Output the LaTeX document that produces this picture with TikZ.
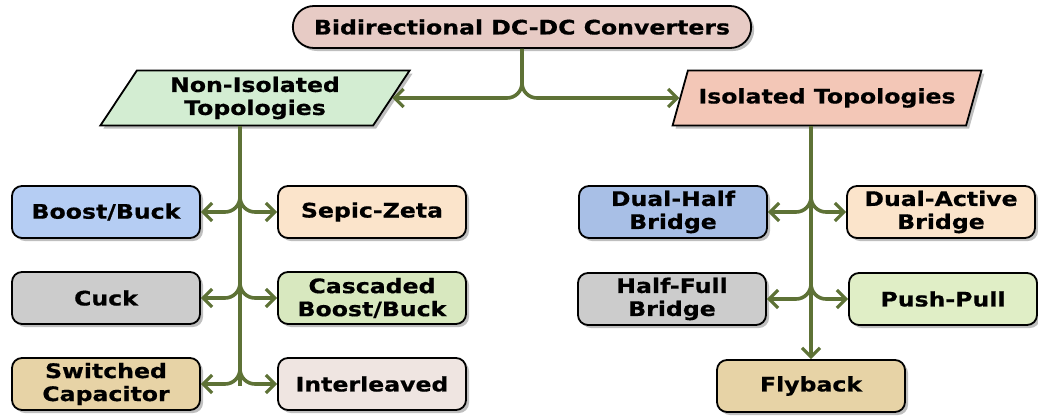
\documentclass[tikz,border=0pt]{standalone}
\usepackage{fontspec}
\setmainfont[FakeStretch=1.18,BoldFeatures={FakeBold=0.6}]{DejaVu Sans}
\usetikzlibrary{shapes.geometric,shapes.misc,shadows,arrows.meta}

\definecolor{topfill}{HTML}{E7CBC5}
\definecolor{nonisofill}{HTML}{D3EDD2}
\definecolor{isofill}{HTML}{F3C7B7}
\definecolor{bluefill}{HTML}{B5CDF3}
\definecolor{blueBfill}{HTML}{A8BFE6}
\definecolor{peachfill}{HTML}{FBE4CB}
\definecolor{grayfill}{HTML}{CCCCCC}
\definecolor{greenfill}{HTML}{D8E8BF}
\definecolor{greenBfill}{HTML}{E0EEC6}
\definecolor{tanfill}{HTML}{E7D3A6}
\definecolor{palefill}{HTML}{EFE5E1}
\definecolor{linkcol}{HTML}{5E7236}

\tikzset{
  base/.style={draw=black, line width=1.8pt, font=\bfseries\fontsize{20}{23}\selectfont,
    align=center, drop shadow={shadow xshift=3pt, shadow yshift=-3pt, opacity=.5}},
  topbox/.style={base, rounded rectangle, minimum width=465pt, minimum height=42pt, fill=topfill},
  groupbox/.style={base, trapezium, trapezium left angle=61, trapezium right angle=119,
    trapezium stretches=true, minimum width=310pt, minimum height=55pt},
  leafbox/.style={base, rounded corners=10pt, minimum width=188pt, minimum height=52pt},
  link/.style={draw=linkcol, line width=3.6pt},
  arr/.style={link, -{Straight Barb[length=9pt,width=18pt,line width=3.2pt]}, rounded corners=15pt},
}

\begin{document}
\begin{tikzpicture}[x=1pt,y=-1pt]
  \useasboundingbox (0,0) rectangle (1038,416);

  \node[topbox] (top) at (522,27) {Bidirectional DC-DC Converters};
  \node[groupbox, fill=nonisofill] (noniso) at (255,98) {Non-Isolated\\Topologies};
  \node[groupbox, fill=isofill] (iso) at (827,98) {Isolated Topologies};

  % non-isolated side
  \node[leafbox, fill=bluefill] (boost) at (106,212) {Boost/Buck};
  \node[leafbox, fill=peachfill] (sepic) at (372,212) {Sepic-Zeta};
  \node[leafbox, fill=grayfill] (cuck) at (106,298) {Cuck};
  \node[leafbox, fill=greenfill] (casc) at (372,298) {Cascaded\\Boost/Buck};
  \node[leafbox, fill=tanfill] (swcap) at (106,384) {Switched\\Capacitor};
  \node[leafbox, fill=palefill] (inter) at (372,384) {Interleaved};

  % isolated side
  \node[leafbox, fill=blueBfill] (dhb) at (673,212) {Dual-Half\\Bridge};
  \node[leafbox, fill=peachfill] (dab) at (941,212) {Dual-Active\\Bridge};
  \node[leafbox, fill=grayfill] (hfb) at (672,299) {Half-Full\\Bridge};
  \node[leafbox, fill=greenBfill] (pp) at (943,299) {Push-Pull};
  \node[leafbox, fill=tanfill] (fly) at (811,386) {Flyback};

  \coordinate (ltrunk) at (240,386);
  \coordinate (rtrunk) at (811,386);

  \draw[arr] (top.south) |- (noniso.east);
  \draw[arr] (top.south) |- (iso.west);

  \draw[link] (noniso.south -| ltrunk) -- (ltrunk);
  \foreach \b in {boost,cuck,swcap}
    \draw[arr] ([yshift=16pt]\b.east -| ltrunk) |- (\b.east);
  \foreach \b in {sepic,casc,inter}
    \draw[arr] ([yshift=16pt]\b.west -| ltrunk) |- (\b.west);

  \draw[arr] (iso.south -| rtrunk) -- (fly.north);
  \foreach \b in {dhb,hfb}
    \draw[arr] ([yshift=16pt]\b.east -| rtrunk) |- (\b.east);
  \foreach \b in {dab,pp}
    \draw[arr] ([yshift=16pt]\b.west -| rtrunk) |- (\b.west);
\end{tikzpicture}
\end{document}
